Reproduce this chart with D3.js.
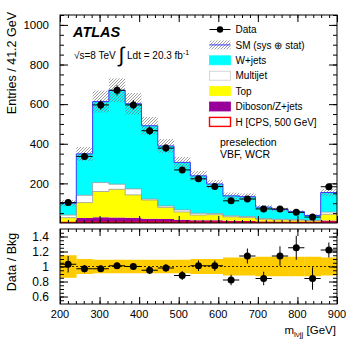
<!DOCTYPE html>
<html>
<head>
<meta charset="utf-8">
<script src="https://cdn.jsdelivr.net/npm/d3@7"></script>
<style>
  body { margin: 0; background: #fff; }
  svg { font-family: "Liberation Sans", Arial, sans-serif; }
</style>
</head>
<body>
<div id="chart"></div>
<script>
// bin edges: 17 bins of 41.2 GeV from 200 GeV
const binEdges = [200, 241.2, 282.4, 323.5, 364.7, 405.9, 447.1, 488.2, 529.4, 570.6,
  611.8, 652.9, 694.1, 735.3, 776.5, 817.6, 858.8, 900];

const diboson = [5, 25, 29, 28, 26, 22, 20, 16, 14, 14, 11, 10, 7, 6, 5, 4, 12];
const topBkg = [22, 78, 130, 142, 116, 94, 59, 40, 26, 28, 20, 18, 12, 10, 9, 7, 32];
const multijet = [13, 37, 45, 26, 30, 5, 7, 10, 9, 6, 5, 5, 3, 3, 3, 2, 11];
const wjets = [60, 209, 409, 474, 430, 370, 303, 240, 189, 149, 101, 100, 58, 49, 40, 25, 99];
const signal = [3, 4, 4, 4, 4, 4, 4, 4, 4, 4, 4, 4, 3, 3, 3, 3, 5];

const dataVals = [103, 336, 596, 670, 596, 466, 378, 268, 223, 184, 112, 121, 71, 71, 54, 30, 183];
const dataErr = [10, 18, 24, 26, 24, 22, 19, 16, 15, 14, 11, 11, 8, 8, 7, 5, 14];

// relative SM uncertainty (sys + stat)
const smRelErr = [0.15, 0.10, 0.09, 0.09, 0.09, 0.09, 0.09, 0.09, 0.10, 0.10, 0.12, 0.12, 0.13, 0.13, 0.13, 0.13, 0.12];

const ratioVals = [1.03, 0.97, 0.97, 1.01, 1.00, 0.95, 0.98, 0.88, 1.01, 1.01, 0.82, 1.14, 0.84, 1.14, 1.25, 0.84, 1.22];
const ratioErr = [0.11, 0.05, 0.04, 0.04, 0.04, 0.05, 0.05, 0.06, 0.07, 0.07, 0.07, 0.10, 0.09, 0.13, 0.16, 0.15, 0.10];

const yTicks = [200, 400, 600, 800, 1000];
const rTicks = [0.6, 0.8, 1, 1.2, 1.4];
const xTicks = [200, 300, 400, 500, 600, 700, 800, 900];

const W = 357, H = 340;
const L = 60, R = 337;
const topT = 15, topB = 223;
const ratT = 229, ratB = 304;

const svg = d3.select('#chart').append('svg')
  .attr('width', W).attr('height', H);

const x = d3.scaleLinear().domain([200, 900]).range([L, R]);
const y = d3.scaleLinear().domain([0, 1050]).range([topB, topT]);
const yr = d3.scaleLinear().domain([0.5, 1.5]).range([ratB, ratT]);

const bins = dataVals.map((d, i) => ({
  i, lo: binEdges[i], hi: binEdges[i + 1], mid: (binEdges[i] + binEdges[i + 1]) / 2,
  diboson: diboson[i], topq: topBkg[i], multijet: multijet[i], wjets: wjets[i]
}));
const totals = bins.map(b => b.diboson + b.topq + b.multijet + b.wjets);

// hatch pattern
const defs = svg.append('defs');
const pat = defs.append('pattern')
  .attr('id', 'hatch').attr('patternUnits', 'userSpaceOnUse')
  .attr('width', 3).attr('height', 3);
pat.append('path').attr('d', 'M-1,1 l2,-2 M0,3 l3,-3 M2,4 l2,-2')
  .attr('stroke', '#777').attr('stroke-width', 0.7);
defs.append('clipPath').attr('id', 'clipTop')
  .append('rect').attr('x', L).attr('y', topT).attr('width', R - L).attr('height', topB - topT);

// ---- top panel
const gTop = svg.append('g').attr('clip-path', 'url(#clipTop)');

const keys = ['diboson', 'topq', 'multijet', 'wjets'];
const fills = { diboson: '#990099', topq: '#ffff00', multijet: '#ffffff', wjets: '#00ffff' };
const stack = d3.stack().keys(keys)(bins);

// step points: one per edge, last bin repeated
const stepPts = arr => arr.concat([arr[arr.length - 1]]).map((v, k) => [binEdges[k], v]);

const area = d3.area()
  .curve(d3.curveStepAfter)
  .x(d => x(d[0]))
  .y0(d => y(d[1][0]))
  .y1(d => y(d[1][1]));

stack.forEach(layer => {
  const pts = stepPts(layer.map(s => [s[0], s[1]]));
  gTop.append('path')
    .attr('d', area(pts))
    .attr('fill', fills[layer.key])
    .attr('stroke', 'none');
});

const line = d3.line().curve(d3.curveStepAfter).x(d => x(d[0])).y(d => y(d[1]));
// grey outlines on top & multijet boundaries
[1, 2].forEach(k => {
  gTop.append('path')
    .attr('d', line(stepPts(stack[k].map(s => s[1]))))
    .attr('fill', 'none').attr('stroke', '#999').attr('stroke-width', 0.8);
});

// SM uncertainty hatch
gTop.append('g').selectAll('rect')
  .data(bins)
  .join('rect')
  .attr('x', b => x(b.lo))
  .attr('width', b => x(b.hi) - x(b.lo))
  .attr('y', b => y(totals[b.i] * (1 + smRelErr[b.i])))
  .attr('height', b => y(totals[b.i] * (1 - smRelErr[b.i])) - y(totals[b.i] * (1 + smRelErr[b.i])))
  .attr('fill', 'url(#hatch)');

// SM total line
gTop.append('path')
  .attr('d', line(stepPts(totals)))
  .attr('fill', 'none').attr('stroke', '#3c3cff').attr('stroke-width', 1);

// signal
gTop.append('path')
  .attr('d', line(stepPts(signal)))
  .attr('fill', 'none').attr('stroke', '#ff0000').attr('stroke-width', 1.2);

// data points
const gData = svg.append('g');
bins.forEach(b => {
  const cx = x(b.mid), cy = y(dataVals[b.i]);
  gData.append('line').attr('x1', x(b.lo)).attr('x2', x(b.hi)).attr('y1', cy).attr('y2', cy)
    .attr('stroke', '#000').attr('stroke-width', 1);
  gData.append('line').attr('x1', cx).attr('x2', cx)
    .attr('y1', y(dataVals[b.i] + dataErr[b.i])).attr('y2', y(dataVals[b.i] - dataErr[b.i]))
    .attr('stroke', '#000').attr('stroke-width', 1);
  gData.append('circle').attr('cx', cx).attr('cy', cy).attr('r', 3.5).attr('fill', '#000');
});

// ---- ratio panel
const gRat = svg.append('g');
gRat.selectAll('rect.band')
  .data(bins)
  .join('rect')
  .attr('class', 'band')
  .attr('x', b => x(b.lo))
  .attr('width', b => x(b.hi) - x(b.lo) + 0.3)
  .attr('y', b => yr(1 + smRelErr[b.i]))
  .attr('height', b => yr(1 - smRelErr[b.i]) - yr(1 + smRelErr[b.i]))
  .attr('fill', '#ffcc00');

gRat.append('line')
  .attr('x1', L).attr('x2', R).attr('y1', yr(1)).attr('y2', yr(1))
  .attr('stroke', '#000').attr('stroke-width', 0.8).attr('stroke-dasharray', '2,2');

bins.forEach(b => {
  const cx = x(b.mid), cy = yr(ratioVals[b.i]);
  gRat.append('line').attr('x1', x(b.lo)).attr('x2', x(b.hi)).attr('y1', cy).attr('y2', cy)
    .attr('stroke', '#000').attr('stroke-width', 1);
  gRat.append('line').attr('x1', cx).attr('x2', cx)
    .attr('y1', yr(ratioVals[b.i] + ratioErr[b.i])).attr('y2', yr(ratioVals[b.i] - ratioErr[b.i]))
    .attr('stroke', '#000').attr('stroke-width', 1);
  gRat.append('circle').attr('cx', cx).attr('cy', cy).attr('r', 3.5).attr('fill', '#000');
});

// ---- axes (ROOT style: ticks inside, on all four sides)
function ticksIn(g) {
  g.select('.domain').remove();
  g.selectAll('.tick line').attr('stroke', '#000');
}

const yMinor = d3.range(50, 1051, 50);
const xMinor = d3.range(200, 901, 20);
const rMinor = d3.range(0.55, 1.5, 0.05);

function drawFrame(t, bot, ys, yMaj, yMin, fmt, fs) {
  // left
  svg.append('g').attr('transform', `translate(${L},0)`)
    .call(d3.axisLeft(ys).tickValues(yMin).tickSize(-4).tickFormat('')).call(ticksIn);
  svg.append('g').attr('transform', `translate(${L},0)`)
    .call(d3.axisLeft(ys).tickValues(yMaj).tickSizeInner(-8).tickPadding(11).tickFormat(fmt))
    .call(ticksIn)
    .call(g => g.selectAll('text').attr('font-size', fs).attr('fill', '#000'));
  // right
  svg.append('g').attr('transform', `translate(${R},0)`)
    .call(d3.axisRight(ys).tickValues(yMin).tickSize(-4).tickFormat('')).call(ticksIn);
  svg.append('g').attr('transform', `translate(${R},0)`)
    .call(d3.axisRight(ys).tickValues(yMaj).tickSize(-8).tickFormat('')).call(ticksIn);
  // bottom / top x ticks
  svg.append('g').attr('transform', `translate(0,${bot})`)
    .call(d3.axisBottom(x).tickValues(xMinor).tickSize(-3).tickFormat('')).call(ticksIn);
  svg.append('g').attr('transform', `translate(0,${bot})`)
    .call(d3.axisBottom(x).tickValues(xTicks).tickSize(-7).tickFormat('')).call(ticksIn);
  svg.append('g').attr('transform', `translate(0,${t})`)
    .call(d3.axisTop(x).tickValues(xMinor).tickSize(-3).tickFormat('')).call(ticksIn);
  svg.append('g').attr('transform', `translate(0,${t})`)
    .call(d3.axisTop(x).tickValues(xTicks).tickSize(-7).tickFormat('')).call(ticksIn);
  svg.append('rect').attr('x', L).attr('y', t).attr('width', R - L).attr('height', bot - t)
    .attr('fill', 'none').attr('stroke', '#000').attr('stroke-width', 1);
}

drawFrame(topT, topB, y, yTicks, yMinor, d3.format('d'), 11.5);
drawFrame(ratT, ratB, yr, rTicks, rMinor, d => String(+d.toFixed(1)), 12);

// x tick labels
svg.append('g').selectAll('text')
  .data(xTicks)
  .join('text')
  .attr('x', d => x(d)).attr('y', ratB + 14)
  .attr('text-anchor', 'middle').attr('font-size', 11)
  .text(d => d);

// axis titles
svg.append('text')
  .attr('transform', `translate(16,12) rotate(-90)`)
  .attr('text-anchor', 'end').attr('font-size', 12.5)
  .text('Entries / 41.2 GeV');
svg.append('text')
  .attr('transform', `translate(16,262) rotate(-90)`)
  .attr('text-anchor', 'middle').attr('font-size', 12.5)
  .text('Data / Bkg');
const xt = svg.append('text')
  .attr('x', R - 1).attr('y', 334).attr('text-anchor', 'end').attr('font-size', 11.5);
xt.append('tspan').text('m');
xt.append('tspan').attr('font-size', 8).attr('dy', 3).text('lνjj');
xt.append('tspan').attr('dy', -3).text(' [GeV]');

// ATLAS label
svg.append('text')
  .attr('x', 73).attr('y', 37)
  .attr('font-size', 14.5).attr('font-weight', 'bold').attr('font-style', 'italic')
  .text('ATLAS');
const lum = svg.append('text').attr('x', 74).attr('y', 58.5).attr('font-size', 10);
lum.append('tspan').text('√s=8 TeV ');
lum.append('tspan').attr('font-size', 21).attr('dy', 3).text('∫');
lum.append('tspan').attr('dy', -3).text(' Ldt = 20.3 fb');
lum.append('tspan').attr('font-size', 7).attr('dy', -4).text('-1');

// legend
const legend = [
  { label: 'Data', kind: 'data' },
  { label: 'SM (sys ⊕ stat)', kind: 'sm' },
  { label: 'W+jets', kind: 'box', fill: fills.wjets, stroke: '#00ffff' },
  { label: 'Multijet', kind: 'box', fill: '#fff', stroke: '#ccc' },
  { label: 'Top', kind: 'box', fill: fills.topq, stroke: '#ffff00' },
  { label: 'Diboson/Z+jets', kind: 'box', fill: fills.diboson, stroke: '#990099' },
  { label: 'H [CPS, 500 GeV]', kind: 'box', fill: '#fff', stroke: '#ff0000' }
];
const lx = 209.5, ly0 = 29.5, ldy = 15.4;
const gl = svg.append('g');
legend.forEach((e, k) => {
  const cy = ly0 + k * ldy;
  if (e.kind === 'data') {
    gl.append('line').attr('x1', lx).attr('x2', lx + 21).attr('y1', cy).attr('y2', cy)
      .attr('stroke', '#000');
    gl.append('circle').attr('cx', lx + 10.5).attr('cy', cy).attr('r', 3.2).attr('fill', '#000');
  } else if (e.kind === 'sm') {
    gl.append('rect').attr('x', lx).attr('y', cy - 4.5).attr('width', 21).attr('height', 9)
      .attr('fill', 'url(#hatch)');
    gl.append('line').attr('x1', lx).attr('x2', lx + 21).attr('y1', cy).attr('y2', cy)
      .attr('stroke', '#3c3cff');
  } else {
    gl.append('rect').attr('x', lx).attr('y', cy - 4.5).attr('width', 21).attr('height', 9)
      .attr('fill', e.fill).attr('stroke', e.stroke).attr('stroke-width', e.stroke === '#ff0000' ? 1.4 : 0.8);
  }
  gl.append('text').attr('x', lx + 26).attr('y', cy + 3.6).attr('font-size', 10).text(e.label);
});

svg.append('text').attr('x', 220).attr('y', 145.5).attr('font-size', 10.5).text('preselection');
svg.append('text').attr('x', 220).attr('y', 158).attr('font-size', 10.5).text('VBF, WCR');
</script>
</body>
</html>
